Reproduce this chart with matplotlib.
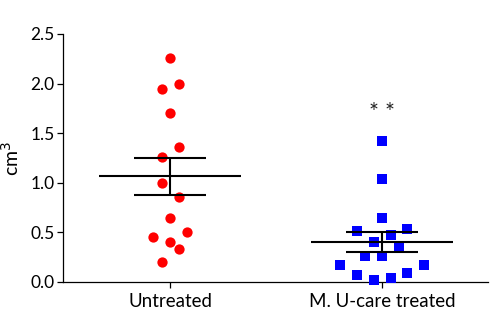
import matplotlib
matplotlib.use("Agg")
import matplotlib.pyplot as plt
import numpy as np

groups = ["Untreated", "M. U-care treated"]

# values (cm^3), with the horizontal scatter offsets
untreated_vals = [2.26, 1.95, 2.00, 1.70, 1.36, 1.26, 1.00, 0.86, 0.65, 0.50, 0.45, 0.40, 0.33, 0.20]
untreated_off = [0.0, -0.04, 0.04, 0.0, 0.04, -0.04, -0.04, 0.04, 0.0, 0.08, -0.08, 0.0, 0.04, -0.04]
treated_vals = [1.42, 1.04, 0.65, 0.51, 0.53, 0.47, 0.40, 0.36, 0.26, 0.26, 0.17, 0.17, 0.07, 0.09, 0.02, 0.04]
treated_off = [0.0, 0.0, 0.0, -0.12, 0.12, 0.04, -0.04, 0.08, -0.08, 0.0, -0.2, 0.2, -0.12, 0.12, -0.04, 0.04]

means = [1.07, 0.40]
sem_hi = [1.25, 0.50]
sem_lo = [0.88, 0.30]

plt.rcParams['font.family'] = ['Lato', 'DejaVu Sans']

fig = plt.figure(figsize=(4.9, 3.29), dpi=100)
ax = fig.add_axes([0.1286, 0.1429, 0.8674, 0.7538])

ax.plot(np.array(untreated_off) + 0, untreated_vals, 'o', color='#ff0000', ms=7.4, mew=0, clip_on=False, zorder=3)
ax.plot(np.array(treated_off) + 1, treated_vals, 's', color='#0000ff', ms=7.2, mew=0, clip_on=False, zorder=3)

for i in range(2):
    ax.hlines(means[i], i - 0.335, i + 0.335, color='black', lw=1.5, zorder=4)
    ax.hlines([sem_hi[i], sem_lo[i]], i - 0.17, i + 0.17, color='black', lw=1.5, zorder=4)
    ax.vlines(i, sem_lo[i], sem_hi[i], color='black', lw=1.5, zorder=4)

ax.text(1, 1.71, "* *", ha='center', va='center', fontsize=17, color='#222222')

ax.set_xlim(-0.505, 1.5)
ax.set_ylim(0, 2.5)
ax.set_xticks([0, 1])
ax.set_xticklabels(groups, fontsize=13.5)
ax.set_yticks([0, 0.5, 1.0, 1.5, 2.0, 2.5])
ax.set_yticklabels(["0.0", "0.5", "1.0", "1.5", "2.0", "2.5"], fontsize=12.5)
ax.set_ylabel("cm$^3$", fontsize=14, labelpad=6)

for s in ['top', 'right']:
    ax.spines[s].set_visible(False)
for s in ['left', 'bottom']:
    ax.spines[s].set_linewidth(0.9)
ax.tick_params(axis='both', length=4, width=0.9)
ax.tick_params(axis='x', pad=4)
ax.tick_params(axis='y', pad=2)

fig.savefig("out.png", dpi=100)
